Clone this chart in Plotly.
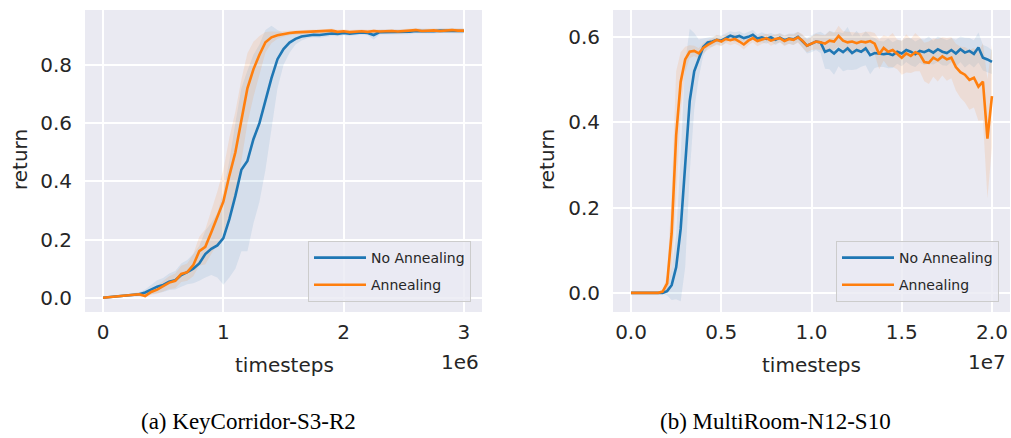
import plotly.graph_objects as go

# ---------------- data: KeyCorridor-S3-R2 (x in units of 1e6 timesteps) ----------------
kc_steps = [0.00, 0.05, 0.10, 0.15, 0.20, 0.25, 0.30, 0.35, 0.40, 0.45,
            0.50, 0.55, 0.60, 0.65, 0.70, 0.75, 0.80, 0.85, 0.90, 0.95,
            1.00, 1.05, 1.10, 1.15, 1.20, 1.25, 1.30, 1.35, 1.40, 1.45,
            1.50, 1.55, 1.60, 1.65, 1.70, 1.75, 1.80, 1.85, 1.90, 1.95,
            2.00, 2.05, 2.10, 2.15, 2.20, 2.25, 2.30, 2.35, 2.40, 2.45,
            2.50, 2.55, 2.60, 2.65, 2.70, 2.75, 2.80, 2.85, 2.90, 2.95, 3.00]

kc_no_anneal = [0.000, 0.001, 0.004, 0.006, 0.008, 0.010, 0.012, 0.018, 0.028, 0.038,
                0.044, 0.055, 0.060, 0.078, 0.088, 0.100, 0.118, 0.150, 0.168, 0.180,
                0.205, 0.270, 0.350, 0.440, 0.470, 0.545, 0.600, 0.680, 0.755, 0.820,
                0.855, 0.877, 0.890, 0.898, 0.902, 0.904, 0.903, 0.906, 0.908, 0.907,
                0.910, 0.908, 0.911, 0.912, 0.910, 0.903, 0.913, 0.913, 0.914, 0.913,
                0.915, 0.914, 0.917, 0.916, 0.917, 0.916, 0.918, 0.917, 0.918, 0.917, 0.917]

kc_no_anneal_sd = [0.000, 0.002, 0.003, 0.004, 0.005, 0.006, 0.007, 0.010, 0.016, 0.022,
                   0.024, 0.028, 0.032, 0.040, 0.042, 0.050, 0.060, 0.080, 0.090, 0.110,
                   0.160, 0.200, 0.250, 0.280, 0.310, 0.290, 0.270, 0.240, 0.180, 0.100,
                   0.055, 0.035, 0.020, 0.014, 0.010, 0.009, 0.009, 0.008, 0.008, 0.008,
                   0.008, 0.008, 0.008, 0.008, 0.008, 0.015, 0.008, 0.008, 0.008, 0.008,
                   0.008, 0.008, 0.008, 0.008, 0.008, 0.008, 0.008, 0.008, 0.008, 0.008, 0.008]

kc_anneal = [0.000, 0.002, 0.005, 0.008, 0.008, 0.010, 0.012, 0.006, 0.020, 0.028,
             0.040, 0.052, 0.058, 0.082, 0.088, 0.112, 0.160, 0.175, 0.225, 0.275,
             0.330, 0.420, 0.500, 0.610, 0.720, 0.785, 0.835, 0.878, 0.895, 0.902,
             0.907, 0.910, 0.912, 0.913, 0.914, 0.915, 0.914, 0.916, 0.918, 0.914,
             0.916, 0.913, 0.915, 0.916, 0.914, 0.917, 0.915, 0.916, 0.917, 0.915,
             0.916, 0.918, 0.920, 0.917, 0.918, 0.919, 0.917, 0.919, 0.920, 0.918, 0.918]

kc_anneal_sd = [0.000, 0.002, 0.003, 0.004, 0.004, 0.005, 0.006, 0.005, 0.010, 0.014,
                0.018, 0.022, 0.025, 0.028, 0.030, 0.038, 0.050, 0.060, 0.075, 0.090,
                0.110, 0.130, 0.140, 0.140, 0.120, 0.095, 0.065, 0.035, 0.020, 0.012,
                0.010, 0.008, 0.008, 0.007, 0.007, 0.007, 0.007, 0.007, 0.007, 0.007,
                0.007, 0.007, 0.007, 0.007, 0.007, 0.007, 0.007, 0.007, 0.007, 0.007,
                0.007, 0.007, 0.007, 0.007, 0.007, 0.007, 0.007, 0.007, 0.007, 0.007, 0.007]

# ---------------- data: MultiRoom-N12-S10 (x in units of 1e7 timesteps) ----------------
mr_steps = [0.000, 0.025, 0.050, 0.075, 0.100, 0.125, 0.150, 0.175, 0.200, 0.225,
            0.250, 0.275, 0.300, 0.325, 0.350, 0.375, 0.400, 0.425, 0.450, 0.475,
            0.500, 0.525, 0.550, 0.575, 0.600, 0.625, 0.650, 0.675, 0.700, 0.725,
            0.750, 0.775, 0.800, 0.825, 0.850, 0.875, 0.900, 0.925, 0.950, 0.975,
            1.000, 1.025, 1.050, 1.075, 1.100, 1.125, 1.150, 1.175, 1.200, 1.225,
            1.250, 1.275, 1.300, 1.325, 1.350, 1.375, 1.400, 1.425, 1.450, 1.475,
            1.500, 1.525, 1.550, 1.575, 1.600, 1.625, 1.650, 1.675, 1.700, 1.725,
            1.750, 1.775, 1.800, 1.825, 1.850, 1.875, 1.900, 1.925, 1.950, 1.975, 2.000]

mr_no_anneal = [0.000, 0.000, 0.000, 0.000, 0.000, 0.000, 0.000, 0.000, 0.004, 0.018,
                0.060, 0.150, 0.300, 0.450, 0.520, 0.550, 0.577, 0.588, 0.590, 0.594,
                0.592, 0.598, 0.604, 0.600, 0.603, 0.598, 0.601, 0.606, 0.597, 0.600,
                0.596, 0.600, 0.594, 0.599, 0.593, 0.597, 0.595, 0.601, 0.590, 0.580,
                0.585, 0.590, 0.588, 0.566, 0.570, 0.562, 0.572, 0.565, 0.574, 0.563,
                0.570, 0.566, 0.574, 0.558, 0.563, 0.561, 0.560, 0.562, 0.558, 0.566,
                0.562, 0.570, 0.566, 0.560, 0.568, 0.565, 0.570, 0.564, 0.572, 0.566,
                0.563, 0.570, 0.562, 0.572, 0.564, 0.568, 0.561, 0.576, 0.552, 0.548, 0.542]

mr_no_anneal_sd = [0.000, 0.000, 0.000, 0.000, 0.000, 0.000, 0.000, 0.002, 0.010, 0.035,
                   0.075, 0.170, 0.240, 0.170, 0.090, 0.045, 0.020, 0.012, 0.012, 0.010,
                   0.012, 0.011, 0.010, 0.012, 0.011, 0.010, 0.012, 0.011, 0.010, 0.012,
                   0.011, 0.010, 0.012, 0.011, 0.012, 0.012, 0.013, 0.012, 0.015, 0.018,
                   0.020, 0.020, 0.025, 0.040, 0.045, 0.050, 0.040, 0.045, 0.050, 0.040,
                   0.045, 0.035, 0.040, 0.045, 0.035, 0.030, 0.030, 0.035, 0.030, 0.028,
                   0.030, 0.028, 0.032, 0.030, 0.028, 0.030, 0.032, 0.028, 0.030, 0.032,
                   0.030, 0.028, 0.032, 0.030, 0.035, 0.030, 0.032, 0.035, 0.030, 0.030, 0.028]

mr_anneal = [0.000, 0.000, 0.000, 0.000, 0.000, 0.000, 0.000, 0.003, 0.022, 0.140,
             0.370, 0.495, 0.548, 0.566, 0.568, 0.562, 0.575, 0.582, 0.588, 0.594,
             0.590, 0.596, 0.593, 0.596, 0.590, 0.583, 0.592, 0.598, 0.591, 0.595,
             0.598, 0.592, 0.596, 0.598, 0.591, 0.596, 0.594, 0.600, 0.592, 0.580,
             0.586, 0.590, 0.588, 0.585, 0.592, 0.590, 0.603, 0.592, 0.588, 0.590,
             0.586, 0.590, 0.588, 0.591, 0.585, 0.560, 0.575, 0.566, 0.570, 0.560,
             0.552, 0.562, 0.556, 0.565, 0.560, 0.542, 0.540, 0.552, 0.546, 0.555,
             0.548, 0.552, 0.530, 0.518, 0.512, 0.500, 0.505, 0.484, 0.496, 0.362, 0.462]

mr_anneal_sd = [0.000, 0.000, 0.000, 0.000, 0.000, 0.000, 0.000, 0.003, 0.020, 0.090,
                0.150, 0.070, 0.030, 0.015, 0.012, 0.012, 0.012, 0.011, 0.010, 0.012,
                0.011, 0.010, 0.012, 0.011, 0.010, 0.012, 0.011, 0.010, 0.012, 0.011,
                0.010, 0.012, 0.011, 0.010, 0.012, 0.011, 0.012, 0.013, 0.015, 0.015,
                0.016, 0.018, 0.018, 0.020, 0.022, 0.020, 0.024, 0.022, 0.025, 0.022,
                0.024, 0.020, 0.025, 0.022, 0.025, 0.035, 0.030, 0.035, 0.040, 0.035,
                0.040, 0.045, 0.040, 0.045, 0.040, 0.045, 0.050, 0.045, 0.050, 0.045,
                0.050, 0.048, 0.055, 0.060, 0.065, 0.070, 0.070, 0.080, 0.090, 0.140, 0.120]

series_names = ["No Annealing", "Annealing"]
kc_x_ticks = [0, 1, 2, 3]
kc_x_ticktext = ["0", "1", "2", "3"]
kc_y_ticks = [0.0, 0.2, 0.4, 0.6, 0.8]
mr_x_ticks = [0.0, 0.5, 1.0, 1.5, 2.0]
mr_y_ticks = [0.0, 0.2, 0.4, 0.6]
captions = ["(a) KeyCorridor-S3-R2", "(b) MultiRoom-N12-S10"]

# ---------------- styling ----------------
BLUE = "#1f77b4"
ORANGE = "#ff7f0e"
BLUE_FILL = "rgba(31,119,180,0.10)"
ORANGE_FILL = "rgba(255,127,14,0.12)"
TEXT = "#262626"
W, H = 1011, 438
M_T, M_B = 10, 126
PLOT_H = H - M_T - M_B


def px_x(p):
    return p / W


def px_y(p):
    return (H - M_B - p) / PLOT_H


fig = go.Figure()


def add_band(xs, mean, sd, fill, xa, ya, grp, leg):
    lo = [m - s for m, s in zip(mean, sd)]
    hi = [m + s for m, s in zip(mean, sd)]
    fig.add_trace(go.Scatter(x=xs, y=lo, mode="lines", line=dict(width=0, color=fill),
                             xaxis=xa, yaxis=ya, showlegend=False, legendgroup=grp,
                             legend=leg, hoverinfo="skip"))
    fig.add_trace(go.Scatter(x=xs, y=hi, mode="lines", line=dict(width=0, color=fill),
                             fill="tonexty", fillcolor=fill, xaxis=xa, yaxis=ya,
                             showlegend=False, legendgroup=grp, legend=leg, hoverinfo="skip"))


def add_line(xs, mean, color, name, xa, ya, grp, leg, show):
    fig.add_trace(go.Scatter(x=xs, y=mean, mode="lines", name=name,
                             line=dict(width=2.6, color=color),
                             xaxis=xa, yaxis=ya, legendgroup=grp, legend=leg,
                             showlegend=show))


# left subplot
add_band(kc_steps, kc_no_anneal, kc_no_anneal_sd, BLUE_FILL, "x", "y", "kc_na", "legend")
add_band(kc_steps, kc_anneal, kc_anneal_sd, ORANGE_FILL, "x", "y", "kc_a", "legend")
add_line(kc_steps, kc_no_anneal, BLUE, series_names[0], "x", "y", "kc_na", "legend", True)
add_line(kc_steps, kc_anneal, ORANGE, series_names[1], "x", "y", "kc_a", "legend", True)

# right subplot
add_band(mr_steps, mr_no_anneal, mr_no_anneal_sd, BLUE_FILL, "x2", "y2", "mr_na", "legend2")
add_band(mr_steps, mr_anneal, mr_anneal_sd, ORANGE_FILL, "x2", "y2", "mr_a", "legend2")
add_line(mr_steps, mr_no_anneal, BLUE, series_names[0], "x2", "y2", "mr_na", "legend2", True)
add_line(mr_steps, mr_anneal, ORANGE, series_names[1], "x2", "y2", "mr_a", "legend2", True)

axis_common = dict(showgrid=True, gridcolor="white", gridwidth=1.6, zeroline=False,
                   showline=False, ticks="", tickfont=dict(size=20, color=TEXT,
                                                          family="DejaVu Sans"))

legend_common = dict(bgcolor="rgba(234,234,242,0.8)", bordercolor="#cccccc", borderwidth=1,
                     font=dict(size=14, color=TEXT, family="DejaVu Sans"),
                     tracegroupgap=6, traceorder="grouped", yanchor="bottom",
                     xanchor="right", y=px_y(302), itemwidth=52)

fig.update_layout(
    width=W, height=H,
    margin=dict(l=0, r=0, t=M_T, b=M_B),
    paper_bgcolor="white", plot_bgcolor="#EAEAF2",
    font=dict(family="DejaVu Sans", size=20, color=TEXT),
    xaxis=dict(domain=[px_x(85), px_x(482)], range=[-0.15, 3.15], anchor="y",
               tickvals=kc_x_ticks, ticktext=kc_x_ticktext, ticklabelstandoff=6,
               **axis_common),
    yaxis=dict(domain=[0, 1], range=[-0.049, 0.989], anchor="x",
               tickvals=kc_y_ticks, tickformat=".1f", ticklabelstandoff=12,
               **axis_common),
    xaxis2=dict(domain=[px_x(613), px_x(1010)], range=[-0.1, 2.1], anchor="y2",
                tickvals=mr_x_ticks, tickformat=".1f", ticklabelstandoff=6,
                **axis_common),
    yaxis2=dict(domain=[0, 1], range=[-0.045, 0.664], anchor="x2",
                tickvals=mr_y_ticks, tickformat=".1f", ticklabelstandoff=12,
                **axis_common),
    legend=dict(x=px_x(471), **legend_common),
    legend2=dict(x=px_x(999), **legend_common),
    hovermode=False,
)

ann = []
# axis titles
ann.append(dict(text="return", x=px_x(20), y=px_y(160), textangle=-90))
ann.append(dict(text="return", x=px_x(547), y=px_y(160), textangle=-90))
ann.append(dict(text="timesteps", x=px_x(284), y=px_y(365)))
ann.append(dict(text="timesteps", x=px_x(811), y=px_y(365)))
# offset (scale) labels
ann.append(dict(text="1e6", x=px_x(481), y=px_y(362), xanchor="right"))
ann.append(dict(text="1e7", x=px_x(1008), y=px_y(362), xanchor="right"))
for a in ann:
    a.setdefault("xanchor", "center")
    a.update(xref="paper", yref="paper", yanchor="middle", showarrow=False,
             font=dict(size=20, color=TEXT, family="DejaVu Sans"))
    fig.add_annotation(**a)

# captions
for text, cx in zip(captions, [248, 775]):
    fig.add_annotation(text=text, x=px_x(cx), y=px_y(422), xref="paper", yref="paper",
                       xanchor="center", yanchor="middle", showarrow=False,
                       font=dict(size=23, color="black", family="Liberation Serif"))

fig.write_html("out.html")
